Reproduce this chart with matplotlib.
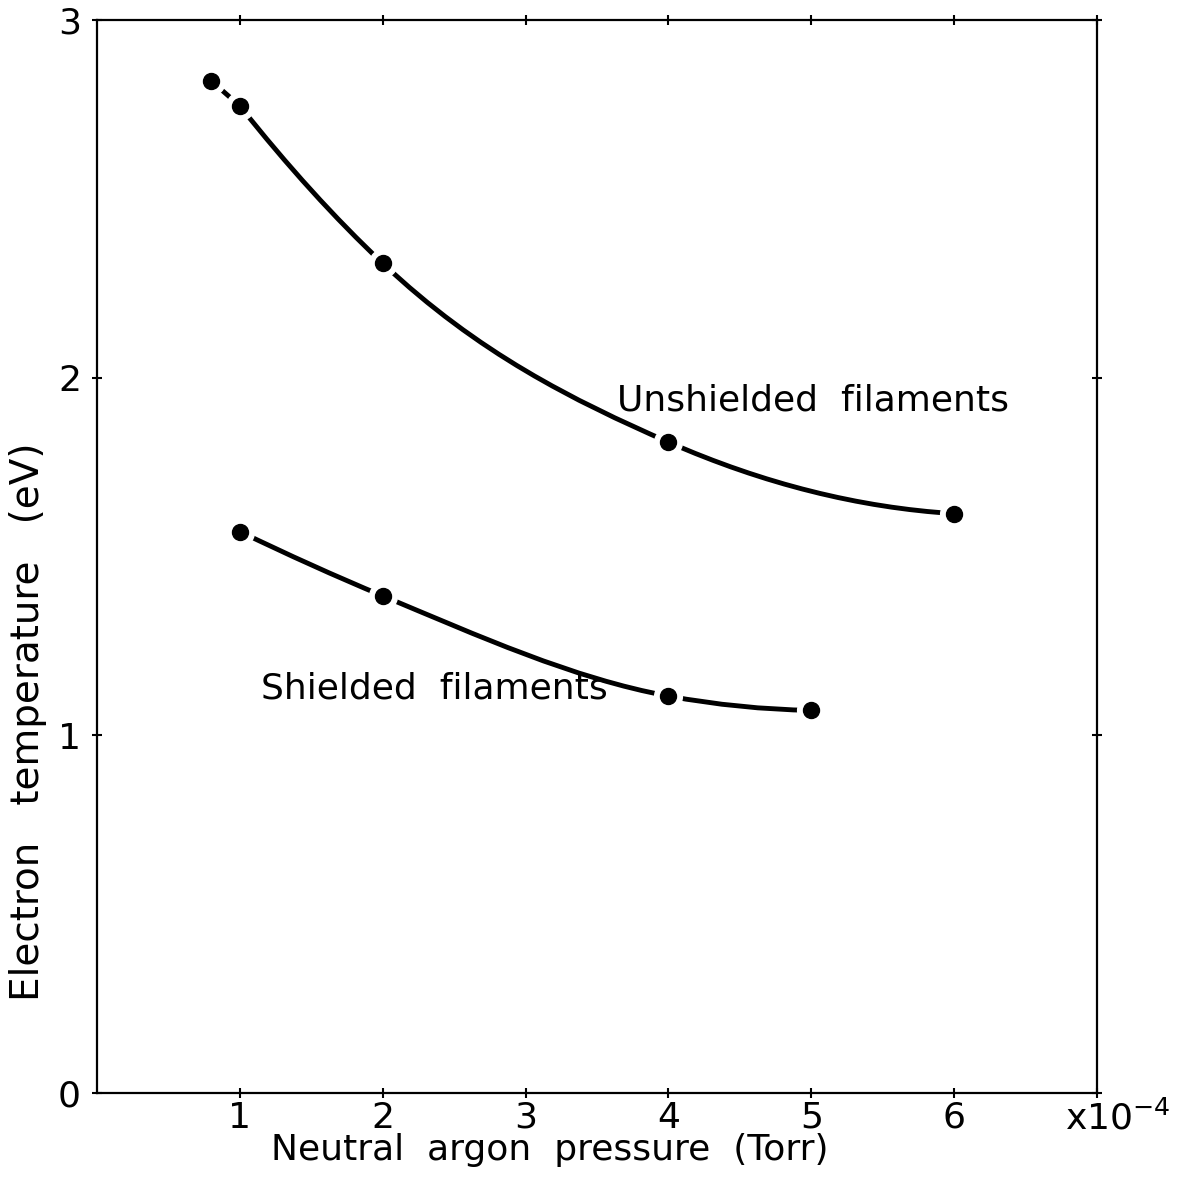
#!/usr/bin/env python3
"""Electron temperature vs neutral argon pressure."""
import matplotlib
matplotlib.use('Agg')
import matplotlib.pyplot as plt
from matplotlib.path import Path
from matplotlib.patches import PathPatch
import numpy as np

# pressure in units of 1e-4 Torr, temperature in eV
unsh_p = [0.8, 1.0, 2.0, 4.0, 6.0]
unsh_te = [2.83, 2.76, 2.32, 1.82, 1.62]
sh_p = [1.0, 2.0, 4.0, 5.0]
sh_te = [1.57, 1.39, 1.11, 1.07]

XTICKS = [1, 2, 3, 4, 5, 6, 7]
XLABELS = ["1", "2", "3", "4", "5", "6", ""]
YTICKS = [0, 1, 2, 3]

plt.rcParams['font.family'] = ['DejaVu Sans']
FS = 26


def smooth_path(xs, ys, straight_lead=0):
    # cubic Hermite through the points, as bezier segments;
    # the first `straight_lead` segments are drawn straight
    x = np.asarray(xs, float); y = np.asarray(ys, float)
    verts = [(x[0], y[0])]
    codes = [Path.MOVETO]
    for i in range(straight_lead):
        verts.append((x[i + 1], y[i + 1]))
        codes.append(Path.LINETO)
    x = x[straight_lead:]; y = y[straight_lead:]
    h = np.diff(x); s = np.diff(y) / h
    n = len(x)
    m = np.zeros(n)
    for i in range(1, n - 1):
        m[i] = (h[i] * s[i - 1] + h[i - 1] * s[i]) / (h[i - 1] + h[i])
    m[0] = ((2 * h[0] + h[1]) * s[0] - h[0] * s[1]) / (h[0] + h[1])
    m[-1] = ((2 * h[-1] + h[-2]) * s[-1] - h[-1] * s[-2]) / (h[-1] + h[-2])
    for i in range(n - 1):
        d = h[i] / 3.0
        verts += [(x[i] + d, y[i] + m[i] * d),
                  (x[i + 1] - d, y[i + 1] - m[i + 1] * d),
                  (x[i + 1], y[i + 1])]
        codes += [Path.CURVE4] * 3
    return Path(verts, codes)


fig = plt.figure(figsize=(11.77, 11.80), dpi=100)
ax = fig.add_axes([0.0824, 0.0737, 0.8496, 0.9093])

for xs, ys, lead in [(unsh_p, unsh_te, 1), (sh_p, sh_te, 0)]:
    ax.add_patch(PathPatch(smooth_path(xs, ys, lead), fill=False, lw=3.5,
                           ec='black', capstyle='butt', zorder=2))
    ax.plot(xs, ys, 'o', ms=20, color='white', mec='white', zorder=3)
    ax.plot(xs, ys, 'o', ms=11.5, color='black', zorder=4)

ax.set_xlim(0, 7)
ax.set_ylim(0, 3)
ax.set_xticks(XTICKS)
ax.set_xticklabels(XLABELS)
ax.set_yticks(YTICKS)
ax.tick_params(direction='inout', length=7, width=1.5, labelsize=FS,
               top=True, right=True)
ax.tick_params(axis='x', pad=2)
ax.tick_params(axis='y', pad=8)
for s in ax.spines.values():
    s.set_linewidth(1.6)

ax.set_xlabel("Neutral  argon  pressure  (Torr)", fontsize=FS)
ax.xaxis.set_label_coords(0.453, -0.037)
ax.set_ylabel("Electron   temperature   (eV)", fontsize=FS + 2)
ax.yaxis.set_label_coords(-0.05, 0.346)

ax.text(0.968, -0.034, r"x10$^{-4}$", transform=ax.transAxes, fontsize=FS,
        ha='left', va='baseline')
ax.text(3.64, 1.937, "Unshielded  filaments", fontsize=FS, va='center')
ax.text(1.147, 1.13, "Shielded  filaments", fontsize=FS, va='center')

plt.savefig("out.png", dpi=100)
plt.close()
